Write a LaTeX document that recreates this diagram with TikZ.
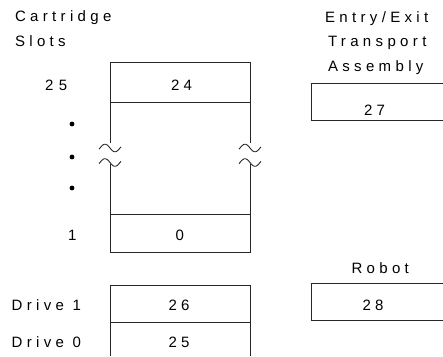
\documentclass[tikz,border=0pt]{standalone}
\usepackage{fontspec}
\setmainfont{Liberation Sans}[LetterSpace=29]
\begin{document}
\begin{tikzpicture}[x=1pt,y=-1pt,
  lbl/.style={anchor=base west,inner sep=0pt,outer sep=0pt,text=black,font=\fontsize{15}{18}\selectfont},
  ln/.style={line width=0.9pt,draw=black!85},
  dot/.style={fill=black}]
\useasboundingbox (0,0) rectangle (443,356);
% cartridge slot column
\draw[ln] (110,143) -- (110,62) -- (250,62) -- (250,143);
\draw[ln] (110,102) -- (250,102);
\draw[ln] (110,164) -- (110,252) -- (250,252) -- (250,164);
\draw[ln] (110,214) -- (250,214);
\foreach \cx in {110,250}{
  \foreach \cy in {148,162.5}{
    \draw[ln] plot[variable=\t,domain=-11:11,samples=40,smooth] ({\cx+\t},{\cy-3.8*sin(-18*\t)});
  }
}
\fill[dot] (72,124) circle (2.4);
\fill[dot] (72,157) circle (2.4);
\fill[dot] (72,188) circle (2.4);
% drives
\draw[ln] (110,356) -- (110,285) -- (250,285) -- (250,356);
\draw[ln] (110,322) -- (250,322);
% entry/exit and robot
\draw[ln] (443,83) -- (311,83) -- (311,120) -- (443,120);
\draw[ln] (443,283) -- (311,283) -- (311,320) -- (443,320);
% labels
\node[lbl] (cart) at (15,21) {Cartridge};
\node[lbl] (slots) at (15,46.5) {Slots};
\node[lbl] (entry) at (325,22.5) {Entry/Exit};
\node[lbl] (transp) at (328,46.5) {Transport};
\node[lbl] (assem) at (328,71.5) {Assembly};
\node[lbl] (n25l) at (45,90) {2\kern5.5pt 5};
\node[lbl] (n24) at (171,90) {24};
\node[lbl] (n27) at (364,115) {27};
\node[lbl] (n1) at (68,240) {1};
\node[lbl] (n0) at (175.5,240) {0};
\node[lbl] (robot) at (351.5,273.3) {Robot};
\node[lbl] (drive1) at (11.7,310.7) {Drive 1};
\node[lbl] (n26) at (168.5,310.7) {26};
\node[lbl] (n28) at (362.5,310.7) {28};
\node[lbl] (drive0) at (11.7,347.3) {Drive 0};
\node[lbl] (n25) at (168.5,347.3) {25};
\end{tikzpicture}
\end{document}
